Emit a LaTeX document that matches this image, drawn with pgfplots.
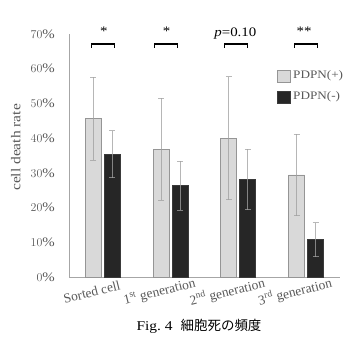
\documentclass[border=0pt]{standalone}
\usepackage{pgfplots}
\pgfplotsset{compat=1.18}
\usepackage{pgfplotstable}
\usepackage{fontspec}
\setmainfont{Liberation Serif}[FakeStretch=1.15]
\newfontfamily\plainserif{Liberation Serif}
\newfontfamily\cjk{Noto Sans CJK JP}
\definecolor{barlight}{HTML}{D9D9D9}
\definecolor{barlightedge}{HTML}{959595}
\definecolor{bardark}{HTML}{262626}
\definecolor{bardarkedge}{HTML}{3A3A3A}
\definecolor{txt}{HTML}{595959}
\definecolor{axline}{HTML}{A6A6A6}
\definecolor{errc}{HTML}{A0A0A0}

\pgfplotstableread{
x y e
0 45.6 12.0
1 36.8 14.7
2 40.0 17.7
3 29.4 11.7
}\pos
\pgfplotstableread{
x y e
0 35.4 6.8
1 26.3 7.0
2 28.1 8.7
3 10.7 4.9
}\negt

\begin{document}
\begin{tikzpicture}
\useasboundingbox (0,0) rectangle (343bp,341bp);
\begin{axis}[
  at={(69bp,64bp)}, anchor=south west,
  scale only axis, width=271bp, height=243bp,
  xmin=-0.5, xmax=3.5, ymin=0, ymax=70,
  axis x line*=bottom, axis y line*=left,
  axis line style={axline, line width=0.8pt},
  ybar=3bp, bar width=16bp,
  xtick={0,1,2,3},
  xticklabels={Sorted cell, 1\textsuperscript{st} generation, 2\textsuperscript{nd} generation, 3\textsuperscript{rd} generation},
  ytick={0,10,...,70},
  yticklabel={\pgfmathprintnumber{\tick}\%},
  major tick length=0,
  clip=false,
  yticklabel style={font=\fontsize{13}{15}\selectfont, text=txt, inner sep=0pt, xshift=-14bp},
  x tick label style={font=\plainserif\fontsize{13.5}{16}\selectfont, text=txt, inner sep=0pt, xshift=-11bp, yshift=-15bp, rotate=14, anchor=center},
  ylabel={cell death rate},
  ylabel style={at={(axis description cs:-0.196,0.533)}, anchor=center, font=\fontsize{13.5}{16}\selectfont, text=txt},
  error bars/error bar style={line width=0.8pt, color=errc, opacity=0.75},
  error bars/error mark options={rotate=90, mark size=3bp, line width=0.8pt, color=errc, opacity=0.75},
]
\addplot[fill=barlight, draw=barlightedge, line width=0.8pt,
  error bars/.cd, y dir=both, y explicit]
  table[x=x, y=y, y error=e] {\pos};
\addplot[fill=bardark, draw=bardarkedge, line width=0.8pt,
  error bars/.cd, y dir=both, y explicit]
  table[x=x, y=y, y error=e] {\negt};

% significance brackets
\draw[line width=1.2pt] (axis cs:-0.162,66.1) -- (axis cs:-0.162,67.1) -- (axis cs:0.176,67.1) -- (axis cs:0.176,66.1);
\draw[line width=1.2pt] (axis cs:0.76,66.1) -- (axis cs:0.76,67.1) -- (axis cs:1.103,67.1) -- (axis cs:1.103,66.1);
\draw[line width=1.2pt] (axis cs:1.794,66.1) -- (axis cs:1.794,67.1) -- (axis cs:2.132,67.1) -- (axis cs:2.132,66.1);
\draw[line width=1.2pt] (axis cs:2.824,66.1) -- (axis cs:2.824,67.1) -- (axis cs:3.162,67.1) -- (axis cs:3.162,66.1);
\node[anchor=north, font=\fontsize{13}{15}\selectfont, inner sep=0pt] at (axis cs:0.015,72.0) {*};
\node[anchor=north, font=\fontsize{13}{15}\selectfont, inner sep=0pt] at (axis cs:0.94,72.0) {*};
\node[anchor=base, font=\fontsize{13}{15}\selectfont, inner sep=0pt] at (axis cs:1.956,69.4) {\textit{p}=0.10};
\node[anchor=north, font=\fontsize{13}{15}\selectfont, inner sep=0pt] at (axis cs:2.97,72.0) {**};
\end{axis}
% legend
\filldraw[fill=barlight, draw=barlightedge, line width=0.8pt] (277bp,259bp) rectangle (290bp,271bp);
\node[anchor=west, inner sep=0pt, font=\fontsize{11.5}{14}\selectfont, text=txt] at (293bp,265bp) {PDPN(+)};
\filldraw[fill=bardark, draw=bardarkedge, line width=0.8pt] (277bp,238bp) rectangle (290bp,250bp);
\node[anchor=west, inner sep=0pt, font=\fontsize{11.5}{14}\selectfont, text=txt] at (293bp,244bp) {PDPN(-)};
% caption
\node[font=\fontsize{13.5}{16}\selectfont] at (199bp,15bp) {Fig.\ 4\hspace{0.6em}{\cjk 細胞死の頻度}};
\end{tikzpicture}
\end{document}
